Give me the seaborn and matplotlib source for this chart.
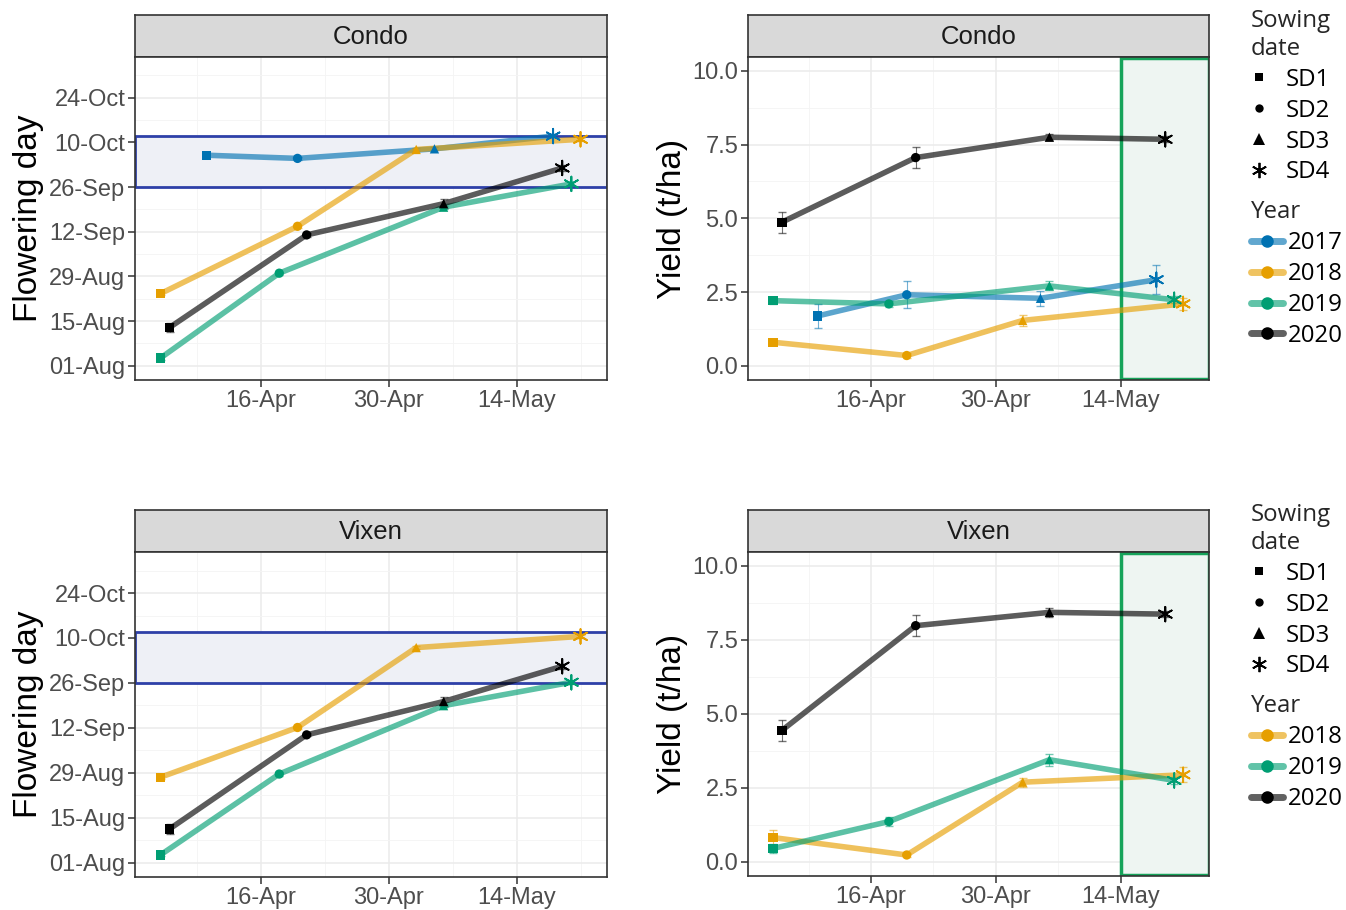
import numpy as np
import pandas as pd
import matplotlib
matplotlib.use("Agg")
import matplotlib.pyplot as plt
from matplotlib.lines import Line2D
from matplotlib.ticker import FixedLocator
import seaborn as sns

# ---- data (day of year for dates, non-leap year) ----
years = [2017, 2018, 2019, 2020]
sowing_dates = ["SD1", "SD2", "SD3", "SD4"]

sow_2017 = [100, 110, 125, 138]
sow_2018 = [95, 110, 123, 141]
sow_2019 = [95, 108, 126, 140]
sow_2020 = [96, 111, 126, 139]

# Condo
condo_flower_2017 = [279, 278, 281, 285]
condo_flower_2018 = [235.6, 256.7, 280.8, 284]
condo_flower_2019 = [215.4, 242, 262.7, 270]
condo_flower_2020 = [225, 254, 263.8, 275]

condo_yield_2017 = [1.69, 2.41, 2.29, 2.92]
condo_yield_2018 = [0.80, 0.35, 1.54, 2.10]
condo_yield_2019 = [2.21, 2.10, 2.71, 2.24]
condo_yield_2020 = [4.87, 7.06, 7.75, 7.68]

condo_yield_se_2017 = [0.40, 0.45, 0.25, 0.50]
condo_yield_se_2018 = [0.10, 0.08, 0.20, 0.20]
condo_yield_se_2019 = [0.10, 0.10, 0.15, 0.12]
condo_yield_se_2020 = [0.35, 0.35, 0.10, 0.10]

# Vixen
vixen_flower_2018 = [239.6, 255.1, 280, 283.5]
vixen_flower_2019 = [215.4, 240.6, 261.9, 269.2]
vixen_flower_2020 = [223.5, 252.8, 263.2, 274.2]

vixen_yield_2018 = [0.82, 0.23, 2.69, 2.94]
vixen_yield_2019 = [0.45, 1.36, 3.45, 2.75]
vixen_yield_2020 = [4.44, 7.98, 8.43, 8.37]

vixen_yield_se_2018 = [0.25, 0.08, 0.15, 0.25]
vixen_yield_se_2019 = [0.15, 0.15, 0.20, 0.12]
vixen_yield_se_2020 = [0.35, 0.35, 0.15, 0.10]

flower_se_2020 = [1.5, 0.5, 1.5, 0.8]
flower_se_other = [0.5, 0.5, 0.5, 0.5]

x_ticks = [106, 120, 134]
x_labels = ["16-Apr", "30-Apr", "14-May"]
flower_ticks = [213, 227, 241, 255, 269, 283, 297]
flower_labels = ["01-Aug", "15-Aug", "29-Aug", "12-Sep", "26-Sep", "10-Oct", "24-Oct"]
yield_ticks = [0.0, 2.5, 5.0, 7.5, 10.0]

palette = {2017: "#0072B2", 2018: "#E69F00", 2019: "#009E73", 2020: "#000000"}
markers = {"SD1": "s", "SD2": "o", "SD3": "^"}
asterisk = (6, 2, 0)

sow = {2017: sow_2017, 2018: sow_2018, 2019: sow_2019, 2020: sow_2020}


def make_df(values, errors):
    rows = []
    for yr, vals in values.items():
        for i, sd in enumerate(sowing_dates):
            rows.append({"year": yr, "sd": sd, "sow": sow[yr][i], "val": vals[i],
                         "se": errors[yr][i]})
    return pd.DataFrame(rows)


condo_flower = make_df({2017: condo_flower_2017, 2018: condo_flower_2018,
                        2019: condo_flower_2019, 2020: condo_flower_2020},
                       {2017: flower_se_other, 2018: flower_se_other,
                        2019: flower_se_other, 2020: flower_se_2020})
condo_yield = make_df({2017: condo_yield_2017, 2018: condo_yield_2018,
                       2019: condo_yield_2019, 2020: condo_yield_2020},
                      {2017: condo_yield_se_2017, 2018: condo_yield_se_2018,
                       2019: condo_yield_se_2019, 2020: condo_yield_se_2020})
vixen_flower = make_df({2018: vixen_flower_2018, 2019: vixen_flower_2019,
                        2020: vixen_flower_2020},
                       {2018: flower_se_other, 2019: flower_se_other,
                        2020: flower_se_2020})
vixen_yield = make_df({2018: vixen_yield_2018, 2019: vixen_yield_2019,
                       2020: vixen_yield_2020},
                      {2018: vixen_yield_se_2018, 2019: vixen_yield_se_2019,
                       2020: vixen_yield_se_2020})

sns.set_theme(style="white")
plt.rcParams["font.family"] = ["Liberation Sans", "DejaVu Sans"]

W, H = 1346, 910
fig = plt.figure(figsize=(W / 100, H / 100), dpi=100)


def rect(l, t, r, b):
    return [l / W, 1 - b / H, (r - l) / W, (b - t) / H]


def strip(l, t, r, b, title):
    s = fig.add_axes(rect(l, t, r, b))
    s.set_facecolor("#d9d9d9")
    s.set_xticks([])
    s.set_yticks([])
    for sp in s.spines.values():
        sp.set_color("#333333")
        sp.set_linewidth(1.2)
    s.text(0.5, 0.47, title, ha="center", va="center", fontsize=18.5, color="#1a1a1a",
           transform=s.transAxes)


def panel(box, df, title, kind):
    l, t, r, b = box
    strip(l, t - 42, r, t, title)
    ax = fig.add_axes(rect(l, t, r, b))
    ax.set_facecolor("white")
    ax.set_axisbelow(True)
    ax.set_xlim(92.2, 143.9)
    ax.xaxis.set_major_locator(FixedLocator(x_ticks))
    ax.set_xticklabels(x_labels)
    ax.xaxis.set_minor_locator(FixedLocator([99, 113, 127, 141]))
    if kind == "flower":
        ax.set_ylim(208.5, 309.8)
        ax.yaxis.set_major_locator(FixedLocator(flower_ticks))
        ax.set_yticklabels(flower_labels)
        ax.yaxis.set_minor_locator(FixedLocator([220, 234, 248, 262, 276, 290, 304]))
        ax.axhspan(269, 285, facecolor="#eef0f6", edgecolor="#2E40A8", lw=2, zorder=1)
        ax.set_ylabel("Flowering day", fontsize=24, color="black")
        ax.yaxis.set_label_coords(-0.192, 0.5)
    else:
        ax.set_ylim(-0.48, 10.47)
        ax.yaxis.set_major_locator(FixedLocator(yield_ticks))
        ax.set_yticklabels([f"{v:.1f}" for v in yield_ticks])
        ax.yaxis.set_minor_locator(FixedLocator([1.25, 3.75, 6.25, 8.75]))
        ax.axvspan(134, 143.9, ymin=0.003, ymax=0.997, facecolor="#eef5f2",
                   edgecolor="#16A35A", lw=2.5, zorder=1)
        ax.set_ylabel("Yield (t/ha)", fontsize=24, color="black")
        ax.yaxis.set_label_coords(-0.13, 0.5)

    ax.grid(which="major", color="#ebebeb", lw=1.1)
    ax.grid(which="minor", color="#f4f4f4", lw=0.6)
    ax.tick_params(axis="both", which="major", labelsize=17, labelcolor="#4d4d4d",
                   color="#333333", length=5, width=1.1, left=True, bottom=True, pad=2)
    ax.tick_params(which="minor", length=0)
    for sp in ax.spines.values():
        sp.set_color("#333333")
        sp.set_linewidth(1.2)

    yrs = [y for y in years if y in df["year"].unique()]
    pal = {y: palette[y] for y in yrs}

    for yr in yrs:
        d = df[df["year"] == yr]
        ax.errorbar(d["sow"], d["val"], yerr=d["se"], fmt="none",
                    ecolor=palette[yr], elinewidth=0.8, capsize=3, alpha=0.55, zorder=2)

    sns.lineplot(data=df, x="sow", y="val", hue="year", palette=pal, linewidth=4,
                 alpha=0.64, legend=False, ax=ax, sort=True, estimator=None, zorder=3)
    filled = df[df["sd"] != "SD4"]
    sns.scatterplot(data=filled, x="sow", y="val", hue="year", palette=pal,
                    style="sd", markers=markers, s=45, linewidth=0, legend=False,
                    ax=ax, zorder=4)
    star = df[df["sd"] == "SD4"]
    sns.scatterplot(data=star, x="sow", y="val", hue="year", palette=pal,
                    marker=asterisk, s=110, linewidth=1.3, legend=False, ax=ax, zorder=4)
    ax.set_xlabel("")
    return ax


panel((135, 57, 607, 380), condo_flower, "Condo", "flower")
panel((748, 57, 1209, 380), condo_yield, "Condo", "yield")
panel((135, 552, 607, 877), vixen_flower, "Vixen", "flower")
panel((748, 552, 1209, 876), vixen_yield, "Vixen", "yield")

# ---- legends ----
leg_font = {"family": ["Open Sans", "DejaVu Sans"], "size": 17.3}


def add_legends(top_px, yrs):
    sd_handles = [Line2D([], [], ls="none", marker=m, color="black", markersize=ms,
                         markeredgewidth=mew)
                  for m, ms, mew in [("s", 6, 0), ("o", 6, 0), ("^", 8, 0),
                                     (asterisk, 11, 1.3)]]
    l1 = fig.legend(sd_handles, sowing_dates, title="Sowing\ndate", loc="upper left",
                    bbox_to_anchor=(1239 / W, 1 - top_px / H), frameon=False,
                    prop=leg_font, title_fontproperties=leg_font, handlelength=0.7,
                    handletextpad=0.75, labelspacing=0.29, borderpad=0,
                    alignment="left")
    yr_handles = [(Line2D([], [], color=palette[y], lw=5, alpha=0.62),
                   Line2D([], [], ls="none", marker="o", color=palette[y], markersize=8))
                  for y in yrs]
    l2 = fig.legend(yr_handles, [str(y) for y in yrs], title="Year", loc="upper left",
                    bbox_to_anchor=(1239 / W, 1 - (top_px + 191) / H), frameon=False,
                    prop=leg_font, title_fontproperties=leg_font, handlelength=1.35,
                    handletextpad=0.2, labelspacing=0.29, borderpad=0,
                    alignment="left")
    for t in l1.get_texts() + l2.get_texts():
        t.set_color("black")


add_legends(-3, [2017, 2018, 2019, 2020])
add_legends(491, [2018, 2019, 2020])

fig.savefig("out.png", dpi=100, facecolor="white")
